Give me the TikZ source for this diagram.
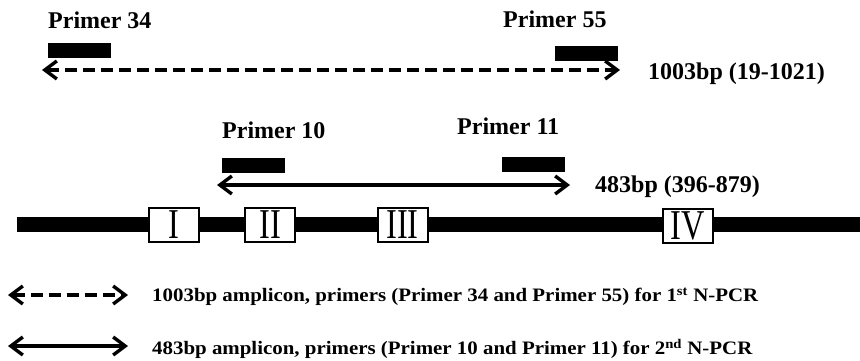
\documentclass[tikz,border=0pt]{standalone}
\usepackage{fontspec}
\setmainfont{Liberation Serif}
\usetikzlibrary{arrows.meta}
\newcommand{\wide}[1]{\scalebox{1.1}[1]{#1}}
\newcommand{\tallnum}[1]{\scalebox{0.9}[1.18]{#1}}
\tikzset{
  primerbar/.style={fill=black, draw=none, minimum width=63pt, minimum height=15pt, inner sep=0pt},
  lbl/.style={anchor=west, inner sep=0pt, font=\bfseries\fontsize{24}{24}\selectfont},
  legendtext/.style={anchor=west, inner sep=0pt, font=\bfseries\fontsize{19}{19}\selectfont},
  exonbox/.style={draw=black, line width=2pt, fill=white, minimum width=50pt, minimum height=34pt, inner sep=0pt, font=\fontsize{36}{36}\selectfont},
  amp/.style={line width=3.2pt, {Straight Barb[length=12pt, width=18pt, line width=3.4pt]}-{Straight Barb[length=12pt, width=18pt, line width=3.4pt]}},
  dashamp/.style={amp, dash pattern=on 12pt off 6pt}
}
\begin{document}
\begin{tikzpicture}[x=1pt, y=-1pt]
\useasboundingbox (0,0) rectangle (860,361);

% outer amplicon (first round)
\node[lbl] (t34) at (48,20) {Primer 34};
\node[lbl] (t55) at (503,19) {Primer 55};
\node[primerbar] (b34) at (79.5,50.5) {};
\node[primerbar] (b55) at (586.5,53.5) {};
\coordinate (o1) at (42,70);
\coordinate (o2) at (620,70);
\draw[dashamp] (o1) -- (o2);
\node[lbl] (len1) at (648,74) {1003bp (19-1021)};

% inner amplicon (second round)
\node[lbl] (t10) at (222,130) {Primer 10};
\node[lbl] (t11) at (457,126) {Primer 11};
\node[primerbar] (b10) at (253.5,165.5) {};
\node[primerbar] (b11) at (533.5,164.5) {};
\coordinate (i1) at (217,185);
\coordinate (i2) at (570,185);
\draw[amp] (i1) -- (i2);
\node[lbl] (len2) at (595,187) {483bp (396-879)};

% gene backbone with regions I-IV
\coordinate (g1) at (17,224.5);
\coordinate (g2) at (860,224.5);
\draw[line width=15pt] (g1) -- (g2);
\node[exonbox] (r1) at (174,225) {\tallnum{I}};
\node[exonbox] (r2) at (270,225) {\tallnum{II}};
\node[exonbox] (r3) at (402.5,225) {\tallnum{III}};
\node[exonbox] (r4) at (688,226) {\tallnum{IV}};

% legend
\coordinate (l1a) at (8,295);
\coordinate (l1b) at (128,295);
\draw[dashamp] (l1a) -- (l1b);
\node[legendtext] (lt1) at (152,297) {\wide{1003bp amplicon, primers (Primer 34 and Primer 55) for 1\textsuperscript{st} N-PCR}};
\coordinate (l2a) at (8,346);
\coordinate (l2b) at (128,346);
\draw[amp] (l2a) -- (l2b);
\node[legendtext] (lt2) at (152,349) {\wide{483bp amplicon, primers (Primer 10 and Primer 11) for 2\textsuperscript{nd} N-PCR}};
\end{tikzpicture}
\end{document}
